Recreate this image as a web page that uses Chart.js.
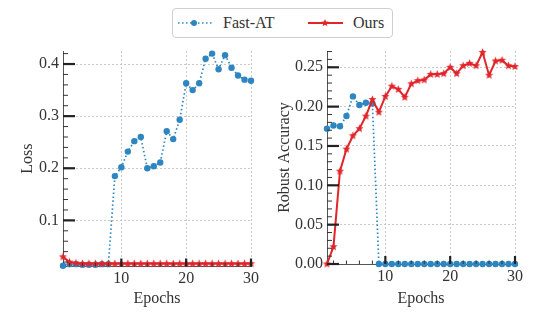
<!DOCTYPE html>
<html>
<head>
<meta charset="utf-8">
<script src="https://cdn.jsdelivr.net/npm/chart.js@4"></script>
<style>
  html, body { margin: 0; padding: 0; background: #fff; }
  #wrap { position: relative; width: 557px; height: 312px; overflow: hidden; }
  #wrap canvas { position: absolute; left: 0; top: 0; }
  #legend {
    position: absolute; left: 172px; top: 8px; width: 219px; height: 28px;
    border: 1px solid #cfcfcf; border-radius: 4px; background: #fff;
    font-family: 'Liberation Serif', 'Times New Roman', serif; font-size: 16px; color: #333;
  }
  #legend svg { position: absolute; top: 0; }
  #legend span { position: absolute; top: 4px; line-height: 20px; }
</style>
</head>
<body>
<div id="wrap">
  <canvas id="loss" width="557" height="312"></canvas>
  <canvas id="acc" width="557" height="312"></canvas>
  <div id="legend">
    <svg width="40" height="28" style="left:4px">
      <line x1="1" y1="14" x2="36" y2="14" stroke="#2e86c1" stroke-width="1.6" stroke-dasharray="1.5 2.5"/>
      <circle cx="17" cy="14" r="3" fill="#2e86c1"/>
    </svg>
    <span style="left:50px">Fast-AT</span>
    <svg width="40" height="28" style="left:134px">
      <line x1="1" y1="14" x2="36" y2="14" stroke="#e0262b" stroke-width="1.8"/>
      <polygon id="legStar" fill="#e0262b"/>
    </svg>
    <span style="left:180px">Ours</span>
  </div>
</div>
<script>
// Epochs on the x axis
const epochs = [1, 2, 3, 4, 5, 6, 7, 8, 9, 10, 11, 12, 13, 14, 15, 16, 17, 18, 19, 20,
                21, 22, 23, 24, 25, 26, 27, 28, 29, 30];

// Left panel: loss
const lossFastAT = [0.013, 0.016, 0.016, 0.015, 0.015, 0.015, 0.016, 0.016, 0.185, 0.202,
                    0.232, 0.252, 0.260, 0.200, 0.204, 0.211, 0.271, 0.256, 0.293, 0.363,
                    0.350, 0.363, 0.410, 0.420, 0.390, 0.417, 0.393, 0.378, 0.370, 0.368];
const lossOurs = [0.030, 0.020, 0.018, 0.017, 0.017, 0.017, 0.017, 0.017, 0.017, 0.017,
                  0.017, 0.017, 0.017, 0.017, 0.017, 0.017, 0.017, 0.017, 0.017, 0.017,
                  0.017, 0.017, 0.017, 0.017, 0.017, 0.017, 0.017, 0.017, 0.017, 0.017];

// Right panel: robust accuracy
const accFastAT = [0.172, 0.176, 0.175, 0.188, 0.213, 0.202, 0.205, 0.204, 0, 0,
                   0, 0, 0, 0, 0, 0, 0, 0, 0, 0,
                   0, 0, 0, 0, 0, 0, 0, 0, 0, 0];
const accOurs = [0.000, 0.022, 0.118, 0.146, 0.163, 0.172, 0.188, 0.209, 0.193, 0.213,
                 0.226, 0.222, 0.212, 0.229, 0.233, 0.234, 0.241, 0.241, 0.242, 0.250,
                 0.242, 0.252, 0.255, 0.252, 0.269, 0.240, 0.258, 0.259, 0.252, 0.251];

// Tick labels
const epochTicks = [10, 20, 30];
const lossTicks = [0.1, 0.2, 0.3, 0.4];
const accTicks = [0, 0.05, 0.10, 0.15, 0.20, 0.25];

const BLUE = '#2e86c1';
const RED = '#e0262b';
const SERIF = "'Liberation Serif', 'Times New Roman', serif";
const FONT = {family: SERIF, size: 16};

// five point star, used as point style and in the legend
function starPoints(cx, cy, r) {
    const pts = [];
    for (let i = 0; i < 10; i++) {
        const rr = i % 2 === 0 ? r : r * 0.45;
        const a = -Math.PI / 2 + i * Math.PI / 5;
        pts.push([cx + rr * Math.cos(a), cy + rr * Math.sin(a)]);
    }
    return pts;
}
function makeStar(r) {
    const c = document.createElement('canvas');
    c.width = c.height = Math.ceil(r * 2 + 2);
    const g = c.getContext('2d');
    g.fillStyle = RED;
    g.beginPath();
    starPoints(c.width / 2, c.height / 2, r).forEach((p, i) => i ? g.lineTo(p[0], p[1]) : g.moveTo(p[0], p[1]));
    g.closePath();
    g.fill();
    return c;
}
const starImg = makeStar(4.3);
document.getElementById('legStar').setAttribute('points',
    starPoints(18, 14, 4).map(p => p.join(',')).join(' '));

// matplotlib style ticks pointing into the plot
const inTicks = {
    id: 'inTicks',
    afterDraw(chart, args, opts) {
        const {ctx, chartArea: a, scales: {x, y}} = chart;
        const seg = (x1, y1, x2, y2) => { ctx.beginPath(); ctx.moveTo(x1, y1); ctx.lineTo(x2, y2); ctx.stroke(); };
        ctx.save();
        ctx.strokeStyle = '#333';
        ctx.lineWidth = 1;
        for (let v = opts.yMinor; v <= y.max + 1e-9; v += opts.yMinor) {
            const py = y.getPixelForValue(v);
            if (py >= a.top && py <= a.bottom) seg(a.left, py, a.left + 5, py);
        }
        for (let v = 2; v <= x.max; v += 2) {
            const px = x.getPixelForValue(v);
            seg(px, a.bottom, px, a.bottom - 3.5);
        }
        ctx.strokeStyle = '#222';
        ctx.lineWidth = 2.2;
        opts.yMajor.forEach(v => {
            const py = y.getPixelForValue(v);
            seg(a.left, py, a.left + 12, py);
        });
        epochTicks.forEach(v => {
            const px = x.getPixelForValue(v);
            seg(px, a.bottom, px, a.bottom - 8);
        });
        ctx.restore();
    }
};

function makeChart(id, fastAT, ours, yMin, yMax, yTicks, decimals, yTitle, geo) {
    return new Chart(document.getElementById(id), {
        type: 'line',
        data: {
            labels: epochs,
            datasets: [{
                label: 'Ours',
                data: ours,
                borderColor: RED,
                borderWidth: 2,
                pointStyle: starImg,
                pointRadius: 4,
                tension: 0,
                clip: false
            }, {
                label: 'Fast-AT',
                data: fastAT,
                borderColor: BLUE,
                borderWidth: 1.7,
                borderDash: [1.5, 2.5],
                pointStyle: 'circle',
                pointRadius: 3.2,
                pointBorderWidth: 0,
                pointBackgroundColor: BLUE,
                tension: 0,
                clip: false
            }]
        },
        plugins: [inTicks],
        options: {
            responsive: false,
            animation: false,
            events: [],
            layout: { padding: geo.padding },
            plugins: {
                legend: { display: false },
                tooltip: { enabled: false },
                inTicks: { yMajor: yTicks, yMinor: geo.yMinor }
            },
            scales: {
                x: {
                    type: 'linear',
                    min: 1,
                    max: 30,
                    afterBuildTicks: s => { s.ticks = epochTicks.map(v => ({value: v})); },
                    afterFit: s => { s.height = geo.xHeight; },
                    ticks: { font: FONT, color: '#333', padding: 3 },
                    grid: { color: '#bcbcbc', lineWidth: 0.8, drawTicks: false },
                    border: { display: true, color: '#555', width: 1, dash: [2, 2] },
                    title: { display: true, text: 'Epochs', font: FONT, color: '#333',
                             padding: {top: 0, bottom: 4} }
                },
                y: {
                    type: 'linear',
                    min: yMin,
                    max: yMax,
                    afterBuildTicks: s => { s.ticks = yTicks.map(v => ({value: v})); },
                    afterFit: s => { s.width = geo.yWidth; },
                    ticks: { font: FONT, color: '#333', padding: 4,
                             callback: v => v.toFixed(decimals) },
                    grid: { color: '#bcbcbc', lineWidth: 0.8, drawTicks: false },
                    border: { display: true, color: '#555', width: 1, dash: [2, 2] },
                    title: { display: true, text: yTitle, font: FONT, color: '#333',
                             padding: {top: geo.titlePad, bottom: 0} }
                }
            }
        }
    });
}

makeChart('loss', lossFastAT, lossOurs, 0.0115, 0.425, lossTicks, 1, 'Loss', {
    padding: {left: 0, top: 51, right: 306, bottom: 0},
    yWidth: 63, xHeight: 45.5, titlePad: 18, yMinor: 0.02
});
makeChart('acc', accFastAT, accOurs, 0, 0.2707, accTicks, 2, 'Robust Accuracy', {
    padding: {left: 267, top: 51, right: 42, bottom: 0},
    yWidth: 60, xHeight: 48, titlePad: 8, yMinor: 0.01
});
</script>
</body>
</html>
